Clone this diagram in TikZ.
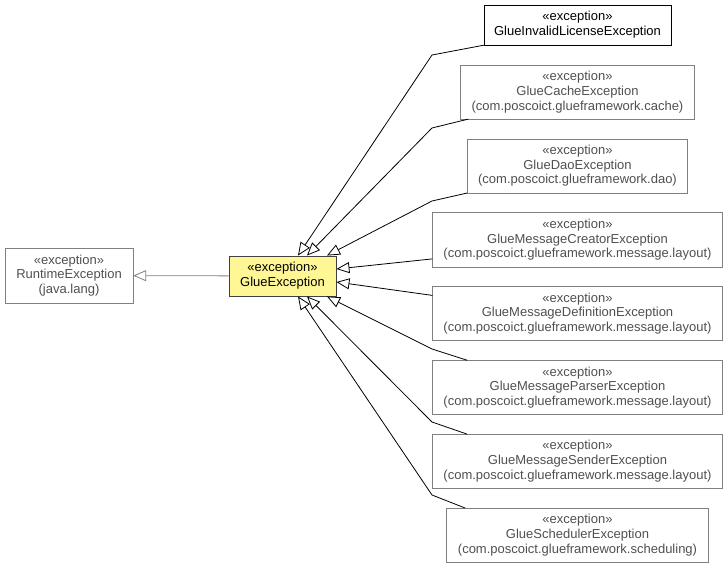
\documentclass[tikz,border=0pt]{standalone}
\usepackage{fontspec}
\setmainfont{Liberation Sans}
\usepackage{tikz}
\usetikzlibrary{arrows.meta, positioning}

\definecolor{boxgrey}{RGB}{128,128,128}
\definecolor{txtgrey}{RGB}{80,80,80}
\definecolor{geyellow}{RGB}{255,246,150}
\definecolor{gedark}{RGB}{64,64,64}

\begin{document}
\begin{tikzpicture}[x=1pt, y=-1pt,
		node distance=19.5pt,
		excbox/.style={
			draw=boxgrey, text=txtgrey, fill=white,
			align=center, inner sep=0pt,
			minimum width=#1, minimum height=54pt,
			font=\fontsize{13}{14.8}\selectfont
		},
		excbox/.default=290pt,
		inherits/.style={-{Triangle[fill=white, length=13pt, width=11pt]}, line width=0.8pt}
	]
	
	\useasboundingbox (0,0) rectangle (728,564);
	
	% subclasses
	\node[excbox=187pt, draw=black, text=black, minimum height=40pt] (invalid) at (577.5,25)
		{«exception»\\GlueInvalidLicenseException};
	\node[excbox=234pt, below=of invalid] (cache)
		{«exception»\\GlueCacheException\\(com.poscoict.glueframework.cache)};
	\node[excbox=220pt, below=of cache] (dao)
		{«exception»\\GlueDaoException\\(com.poscoict.glueframework.dao)};
	\node[excbox, below=of dao] (creator)
		{«exception»\\GlueMessageCreatorException\\(com.poscoict.glueframework.message.layout)};
	\node[excbox, below=of creator] (definition)
		{«exception»\\GlueMessageDefinitionException\\(com.poscoict.glueframework.message.layout)};
	\node[excbox, below=of definition] (parser)
		{«exception»\\GlueMessageParserException\\(com.poscoict.glueframework.message.layout)};
	\node[excbox, below=of parser] (sender)
		{«exception»\\GlueMessageSenderException\\(com.poscoict.glueframework.message.layout)};
	\node[excbox=262pt, below=of sender] (scheduler)
		{«exception»\\GlueSchedulerException\\(com.poscoict.glueframework.scheduling)};
	
	% base classes
	\node[excbox=107pt, draw=gedark, line width=0.9pt, text=black, fill=geyellow, minimum height=40pt] (ge) at (282.5,276)
		{«exception»\\GlueException};
	\node[excbox=128pt, minimum height=55pt] (runtime) at (69,275.5)
		{«exception»\\RuntimeException\\(java.lang)};
	
	% bends
	\coordinate (bInvalid) at (432,55);
	\coordinate (bCache) at (432,128);
	\coordinate (bDao) at (432,201);
	\coordinate (bParser) at (432,349);
	\coordinate (bSender) at (432,422);
	\coordinate (bScheduler) at (432,495);
	
	% generalisations
	\draw[inherits, draw=boxgrey] (ge) -- (runtime);
	\draw[inherits] (invalid.south west) -- (bInvalid) -- ([xshift=15.5pt]ge.north);
	\draw[inherits] ([xshift=8pt]cache.south west) -- (bCache) -- ([xshift=24.5pt]ge.north);
	\draw[inherits] (dao.south west) -- (bDao) -- ([xshift=44.5pt]ge.north);
	\draw[inherits] ([yshift=8pt]creator.south west) -- ([yshift=7pt]ge.east);
	\draw[inherits] ([yshift=-9pt]definition.north west) -- ([yshift=-6pt]ge.east);
	\draw[inherits] ([xshift=35pt]parser.north west) -- (bParser) -- ([xshift=44.5pt]ge.south);
	\draw[inherits] ([xshift=35pt]sender.north west) -- (bSender) -- ([xshift=24.5pt]ge.south);
	\draw[inherits] ([xshift=19pt]scheduler.north west) -- (bScheduler) -- ([xshift=15.5pt]ge.south);
	
\end{tikzpicture}
\end{document}
